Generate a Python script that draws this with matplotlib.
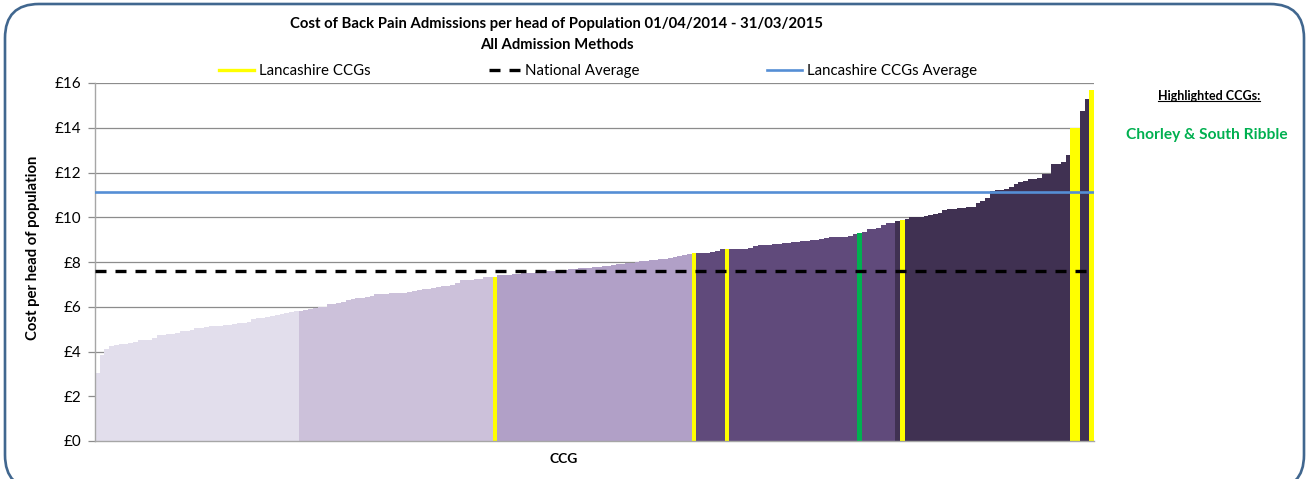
import matplotlib
matplotlib.use("Agg")
import matplotlib.pyplot as plt
from matplotlib.patches import FancyBboxPatch
from matplotlib.lines import Line2D
from matplotlib.transforms import IdentityTransform

plt.rcParams['font.family'] = ['Lato', 'DejaVu Sans']

# Cost of back pain admissions per head of population, all CCGs sorted ascending (GBP)
cost_per_head = [
    # quintile 1
    3.05, 3.84, 4.10, 4.25, 4.30, 4.33, 4.35, 4.39, 4.42, 4.50, 4.51, 4.53, 4.62,
    4.72, 4.74, 4.76, 4.80, 4.82, 4.90, 4.93, 4.97, 5.05, 5.07, 5.09, 5.12, 5.14,
    5.15, 5.18, 5.19, 5.24, 5.26, 5.28, 5.32, 5.46, 5.48, 5.50, 5.52, 5.58, 5.61,
    5.67, 5.70, 5.78, 5.80,
    # quintile 2
    5.81, 5.85, 5.88, 5.93, 5.98, 6.01, 6.11, 6.13, 6.18, 6.23, 6.32, 6.34, 6.38,
    6.41, 6.43, 6.50, 6.55, 6.57, 6.58, 6.60, 6.61, 6.62, 6.63, 6.67, 6.72, 6.74,
    6.78, 6.81, 6.83, 6.87, 6.91, 6.93, 6.95, 7.05, 7.18, 7.20, 7.21, 7.24, 7.26,
    7.31, 7.33, 7.34,
    # quintile 3
    7.40, 7.41, 7.43, 7.45, 7.47, 7.49, 7.51, 7.53, 7.56, 7.57, 7.59, 7.60, 7.62,
    7.64, 7.66, 7.68, 7.70, 7.72, 7.73, 7.75, 7.77, 7.79, 7.81, 7.84, 7.87, 7.89,
    7.91, 7.94, 7.97, 8.00, 8.03, 8.05, 8.08, 8.10, 8.13, 8.15, 8.18, 8.21, 8.27,
    8.33, 8.35, 8.39,
    # quintile 4
    8.40, 8.40, 8.41, 8.45, 8.51, 8.56, 8.58, 8.58, 8.59, 8.59, 8.60, 8.64, 8.72,
    8.76, 8.77, 8.78, 8.81, 8.82, 8.85, 8.86, 8.90, 8.91, 8.94, 8.95, 8.99, 9.00,
    9.01, 9.07, 9.11, 9.12, 9.12, 9.13, 9.18, 9.25, 9.31, 9.34, 9.48, 9.49, 9.53,
    9.65, 9.75, 9.76,
    # quintile 5
    9.83, 9.88, 9.92, 9.99, 10.00, 10.01, 10.06, 10.11, 10.16, 10.17, 10.31, 10.35,
    10.36, 10.42, 10.43, 10.46, 10.47, 10.65, 10.73, 10.85, 11.19, 11.20, 11.24,
    11.25, 11.34, 11.47, 11.56, 11.62, 11.71, 11.72, 11.77, 11.92, 11.93, 12.37,
    12.38, 12.47, 12.78, 14.00, 14.00, 14.73, 15.30, 15.69,
]
quintile_sizes = [43, 42, 42, 42, 42]
quintile_colors = ['#E2DEEC', '#CCC1DA', '#B1A0C7', '#604A7B', '#403152']

# ranks (positions in the sorted list) of Lancashire CCGs and the highlighted CCG
lancashire_ranks = [84, 126, 133, 170, 206, 207, 210]
highlighted_ranks = [161]
highlighted_names = ['Chorley & South Ribble']

national_average = 7.61
lancashire_average = 11.11

y_ticks = list(range(0, 17, 2))
y_tick_labels = [f'£{v}' for v in y_ticks]

W, H = 1308, 479
fig = plt.figure(figsize=(W / 100, H / 100), dpi=100)
ax = fig.add_axes([95 / W, 1 - 441 / H, (1094 - 95) / W, (441 - 83) / H])

colors = []
for size, col in zip(quintile_sizes, quintile_colors):
    colors += [col] * size
for r in lancashire_ranks:
    colors[r] = '#FFFF00'
for r in highlighted_ranks:
    colors[r] = '#00B050'

n = len(cost_per_head)
ax.bar(range(n), cost_per_head, width=1.0, color=colors, linewidth=0, zorder=2)

ax.axhline(national_average, color='black', lw=2.4, dashes=(3.3, 2.7), zorder=3)
ax.axhline(lancashire_average, color='#558ED5', lw=1.9, zorder=3)

ax.set_xlim(-0.5, n - 0.5)
ax.set_ylim(0, 16)
ax.set_yticks(y_ticks)
ax.set_yticklabels(y_tick_labels, fontsize=11)
ax.set_xticks([])
ax.yaxis.grid(True, color='#8C8C8C', lw=0.9, zorder=0)
ax.set_axisbelow(True)
for s in ['top', 'right']:
    ax.spines[s].set_visible(False)
for s in ['left', 'bottom']:
    ax.spines[s].set_color('#A6A6A6')
    ax.spines[s].set_linewidth(1.0)
ax.tick_params(axis='y', length=5, width=0.9, color='#8C8C8C', pad=5)

# titles and axis labels
fig.text(557 / W, 1 - 24 / H, 'Cost of Back Pain Admissions per head of Population 01/04/2014 - 31/03/2015',
         ha='center', va='center', fontsize=10.7, fontweight='bold')
fig.text(557 / W, 1 - 45 / H, 'All Admission Methods', ha='center', va='center',
         fontsize=10.7, fontweight='bold')
fig.text(33 / W, 1 - 248 / H, 'Cost per head of population', rotation=90,
         ha='center', va='center', fontsize=10.7, fontweight='bold')
fig.text(564 / W, 1 - 459 / H, 'CCG', ha='center', va='center', fontsize=10, fontweight='bold')

# legend entries
legend_items = [
    (219, Line2D([], [], color='#FFFF00', lw=2.4), 'Lancashire CCGs', 2.35),
    (489, Line2D([], [], color='black', lw=2.4, dashes=(3.3, 2.7)), 'National Average', 2.1),
    (767, Line2D([], [], color='#558ED5', lw=1.9), 'Lancashire CCGs Average', 2.35),
]
for x0, handle, label, hl in legend_items:
    fig.legend([handle], [label], loc='center left',
               bbox_to_anchor=(x0 / W, 1 - 71 / H), frameon=False,
               fontsize=10.8, handlelength=hl, handletextpad=0.3,
               borderpad=0, borderaxespad=0)

# highlighted CCG panel
t = fig.text(1209 / W, 1 - 96 / H, 'Highlighted CCGs:', ha='center', va='center',
             fontsize=9, fontweight='bold')
for i, name in enumerate(highlighted_names):
    fig.text(1207 / W, 1 - (135 + 20 * i) / H, name, ha='center', va='center',
             fontsize=11.2, fontweight='bold', color='#00B050')

fig.canvas.draw()
bb = t.get_window_extent()
fig.add_artist(Line2D([bb.x0, bb.x1], [bb.y0 + 1, bb.y0 + 1], color='black', lw=0.8,
                      transform=IdentityTransform()))

# rounded outer frame (bottom edge runs just past the lower border)
frame = FancyBboxPatch((5, -10), 1299, 485, boxstyle='round,pad=0,rounding_size=34',
                       transform=IdentityTransform(), facecolor='none',
                       edgecolor='#41678F', lw=1.9, clip_on=False)
fig.add_artist(frame)

fig.savefig('out.png', dpi=100)
